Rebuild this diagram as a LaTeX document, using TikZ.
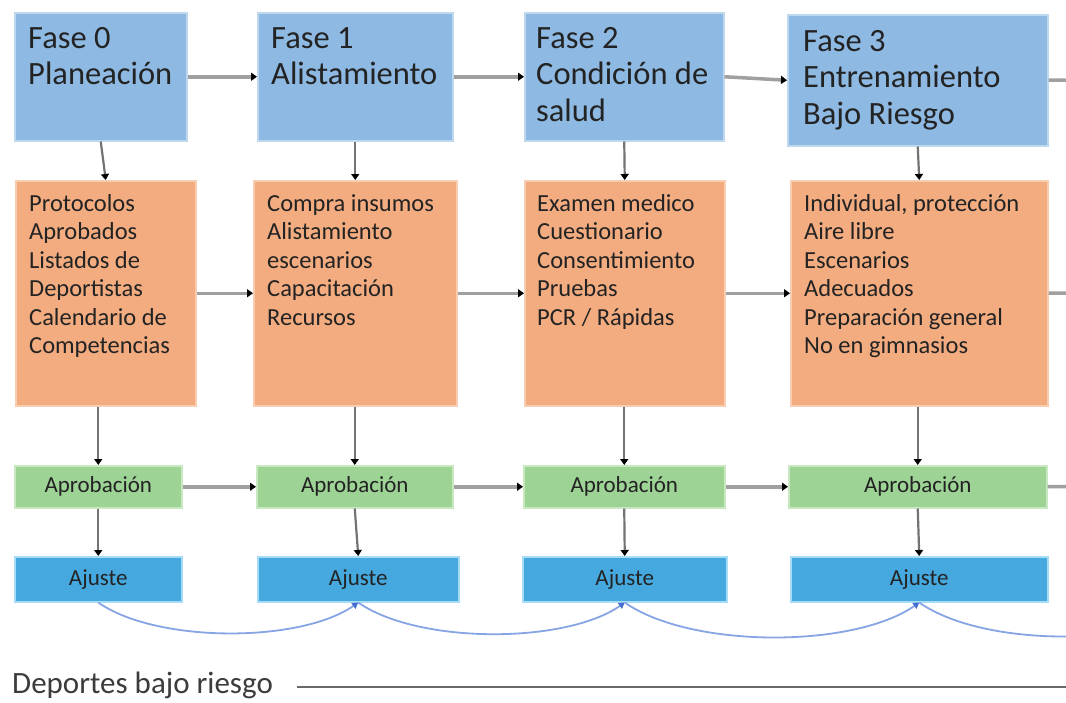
\documentclass[tikz,border=0pt]{standalone}
\usepackage{fontspec}
\setmainfont{Carlito}
\usetikzlibrary{arrows.meta,calc}
\definecolor{bluefill}{RGB}{142,185,226}
\definecolor{blueedge}{RGB}{190,216,240}
\definecolor{orangefill}{RGB}{243,172,128}
\definecolor{orangeedge}{RGB}{249,205,178}
\definecolor{greenfill}{RGB}{158,211,150}
\definecolor{greenedge}{RGB}{200,232,194}
\definecolor{ajfill}{RGB}{69,169,224}
\definecolor{ajedge}{RGB}{166,220,245}
\definecolor{hline}{RGB}{160,160,160}
\definecolor{vline}{RGB}{115,115,115}
\definecolor{curvecol}{RGB}{135,165,228}
\definecolor{curvetip}{RGB}{70,110,210}
\definecolor{txt}{RGB}{35,35,35}
\definecolor{baseline}{RGB}{105,105,105}
\tikzset{
  box/.style={anchor=north west, inner sep=0pt, line width=1.5pt},
  phasebox/.style={box, fill=bluefill, draw=blueedge},
  taskbox/.style={box, fill=orangefill, draw=orangeedge},
  apbox/.style={box, fill=greenfill, draw=greenedge},
  ajbox/.style={box, fill=ajfill, draw=ajedge},
  phasetext/.style={anchor=base west, inner sep=0pt, align=left, text=txt,
    font=\fontsize{32.5}{36.5}\selectfont},
  tasktext/.style={anchor=base west, inner sep=0pt, align=left, text=txt,
    font=\fontsize{24.5}{28.5}\selectfont},
  smalltext/.style={text=txt, font=\fontsize{23}{27}\selectfont},
  hconn/.style={draw=hline, line width=3.5pt, -{Triangle[length=6pt,width=8pt,color=black]}},
  vconn/.style={draw=vline, line width=2.2pt, -{Triangle[length=6pt,width=8pt,color=black]}},
  hexit/.style={draw=hline, line width=3.5pt},
  loopback/.style={draw=curvecol, line width=1.8pt, -{Triangle[length=6pt,width=7pt,color=curvetip]},
    out=-35, in=-145, looseness=0.7},
  loopexit/.style={draw=curvecol, line width=1.8pt, out=-35, in=-145, looseness=0.7},
}
\begin{document}
\begin{tikzpicture}[x=1pt,y=-1pt]
\clip (0,0) rectangle (1066,702);
\fill[white] (0,0) rectangle (1066,702);

% phase boxes
\node[phasebox, minimum width=172pt, minimum height=128pt] (b0) at (14,12) {};
\node[phasebox, minimum width=195pt, minimum height=128pt] (b1) at (257,12) {};
\node[phasebox, minimum width=199pt, minimum height=128pt] (b2) at (524,12) {};
\node[phasebox, minimum width=260pt, minimum height=131pt] (b3) at (787,14) {};
% base anchor = baseline of the last line
\node[phasetext] (tb0) at (28,84.5) {Fase 0\\Planeación};
\node[phasetext] (tb1) at (271,84.5) {Fase 1\\Alistamiento};
\node[phasetext] (tb2) at (536,121) {Fase 2\\Condición de\\salud};
\node[phasetext] (tb3) at (803,124) {Fase 3\\Entrenamiento\\Bajo Riesgo};

% task boxes
\node[taskbox, minimum width=180pt, minimum height=225pt] (o0) at (15,180) {};
\node[taskbox, minimum width=203pt, minimum height=225pt] (o1) at (253,180) {};
\node[taskbox, minimum width=200pt, minimum height=225pt] (o2) at (524,180) {};
\node[taskbox, minimum width=257pt, minimum height=225pt] (o3) at (790,180) {};
\node[tasktext] (to0) at (29,353.5) {Protocolos\\Aprobados\\Listados de\\Deportistas\\Calendario de\\Competencias};
\node[tasktext] (to1) at (267,325) {Compra insumos\\Alistamiento\\escenarios\\Capacitación\\Recursos};
\node[tasktext] (to2) at (537,325) {Examen medico\\Cuestionario\\Consentimiento\\Pruebas\\PCR / Rápidas};
\node[tasktext] (to3) at (804,353.5) {Individual, protección\\Aire libre\\Escenarios\\Adecuados\\Preparación general\\No en gimnasios};

% approval boxes
\node[apbox, minimum width=167pt, minimum height=42pt] (g0) at (14,465) {};
\node[apbox, minimum width=196pt, minimum height=42pt] (g1) at (256,465) {};
\node[apbox, minimum width=201pt, minimum height=42pt] (g2) at (523,465) {};
\node[apbox, minimum width=258pt, minimum height=42pt] (g3) at (788,465) {};
\foreach \i in {0,1,2,3}{
  \node[smalltext] (tg\i) at (g\i.center) {Aprobación};
}

% adjustment boxes
\node[ajbox, minimum width=167pt, minimum height=45pt] (a0) at (14,556) {};
\node[ajbox, minimum width=201pt, minimum height=45pt] (a1) at (257,556) {};
\node[ajbox, minimum width=204pt, minimum height=45pt] (a2) at (522,556) {};
\node[ajbox, minimum width=257pt, minimum height=45pt] (a3) at (790,556) {};
\foreach \i in {0,1,2,3}{
  \node[smalltext] (ta\i) at (a\i.center) {Ajuste};
}

% off-picture continuation points (next phase, cut by the frame)
\coordinate (nb) at (1130,79.5);
\coordinate (no) at (1130,292.5);
\coordinate (ng) at (1130,486);
\coordinate (na) at (1214,601);

% horizontal flow
\draw[hconn] (b0.east) -- (b1.west);
\draw[hconn] (b1.east) -- (b2.west);
\draw[hconn] (b2.east) -- (b3.west);
\draw[hexit] (b3.east) -- (nb);
\draw[hconn] (o0.east) -- (o1.west);
\draw[hconn] (o1.east) -- (o2.west);
\draw[hconn] (o2.east) -- (o3.west);
\draw[hexit] (o3.east) -- (no);
\draw[hconn] (g0.east) -- (g1.west);
\draw[hconn] (g1.east) -- (g2.west);
\draw[hconn] (g2.east) -- (g3.west);
\draw[hexit] (g3.east) -- (ng);

% vertical flow
\foreach \i in {0,1,2,3}{
  \draw[vconn] (b\i.south) -- (o\i.north);
  \draw[vconn] (o\i.south -| g\i.north) -- (g\i.north);
  \draw[vconn] (g\i.south) -- (a\i.north);
}

% feedback curves
\draw[loopback] (a0.south) to (a1.south);
\draw[loopback] (a1.south) to (a2.south);
\draw[loopback] (a2.south) to (a3.south);
\draw[loopexit] (a3.south) to (na);

% legend line
\node[anchor=base west, inner sep=0pt, text={rgb,255:red,60;green,60;blue,60},
  font=\fontsize{31}{35}\selectfont] (dep) at (12,693) {Deportes bajo riesgo};
\coordinate (lineend) at (1066,687);
\draw[draw=baseline, line width=2.5pt] (dep.east |- lineend) ++(24,0) coordinate (linestart) -- (lineend);
\end{tikzpicture}
\end{document}
